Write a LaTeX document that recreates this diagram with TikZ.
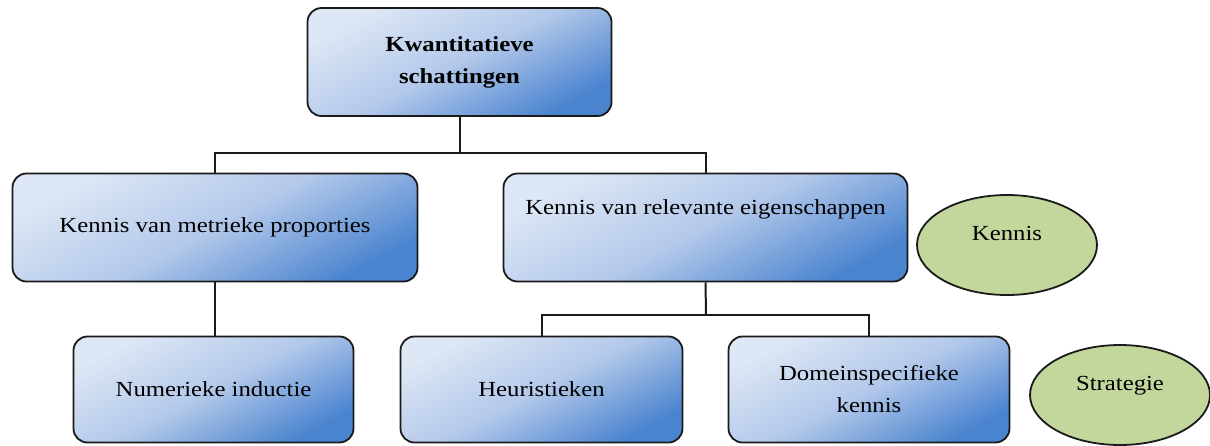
\documentclass[tikz,border=0pt]{standalone}
\usepackage{fontspec}
\setmainfont{Liberation Serif}[FakeStretch=1.15]
\usetikzlibrary{shapes.geometric}
\definecolor{boxlight}{HTML}{DDE7F5}
\definecolor{boxmid}{HTML}{B3C8EA}
\definecolor{boxdark}{HTML}{4A84CF}
\definecolor{ellfill}{HTML}{C3D69B}
\definecolor{edgecol}{HTML}{1A1A1A}
\begin{document}
\begin{tikzpicture}[x=1pt,y=1pt,
  box/.style={draw=edgecol, line width=1.8pt, rounded corners=14pt,
    top color=boxlight, bottom color=boxdark, middle color=boxmid, shading angle=28,
    align=center, inner sep=0pt, font=\fontsize{21.5}{32}\selectfont},
  oval/.style={ellipse, draw=edgecol, line width=1.8pt, fill=ellfill,
    minimum width=180pt, minimum height=100pt, inner sep=0pt,
    text depth=24pt, font=\fontsize{21.5}{32}\selectfont},
  link/.style={draw=edgecol, line width=2pt}]
\useasboundingbox (0,0) rectangle (1210,-445);
\node[box, minimum width=304pt, minimum height=108pt, font=\fontsize{21.5}{32}\selectfont\bfseries]
  (top) at (459.5,-62) {Kwantitatieve\\schattingen};
\node[box, minimum width=405pt, minimum height=108pt] (left) at (215,-227.5) {Kennis van metrieke proporties};
\node[box, minimum width=404pt, minimum height=108pt, text height=15pt, text depth=42pt]
  (right) at (705.5,-227.5) {Kennis van relevante eigenschappen};
\node[box, minimum width=280pt, minimum height=106pt] (numer) at (213.5,-389.5) {Numerieke inductie};
\node[box, minimum width=282pt, minimum height=106pt] (heur) at (541.5,-389.5) {Heuristieken};
\node[box, minimum width=281pt, minimum height=106pt] (domein) at (869,-389.5) {Domeinspecifieke\\kennis};
\node[oval] (kennis) at (1007,-245) {Kennis};
\node[oval] (strat) at (1120,-395) {Strategie};
\coordinate (bus1) at (459.5,-153);
\coordinate (bus2) at (706,-315);
\draw[link] (top.south) -- (bus1);
\draw[link] (left.north) |- (bus1) -| (right.north);
\draw[link] (left.south) -- (left.south |- numer.north);
\draw[link] (right.south) -- (bus2);
\draw[link] (heur.north) |- (bus2) -| (domein.north);
\end{tikzpicture}
\end{document}
